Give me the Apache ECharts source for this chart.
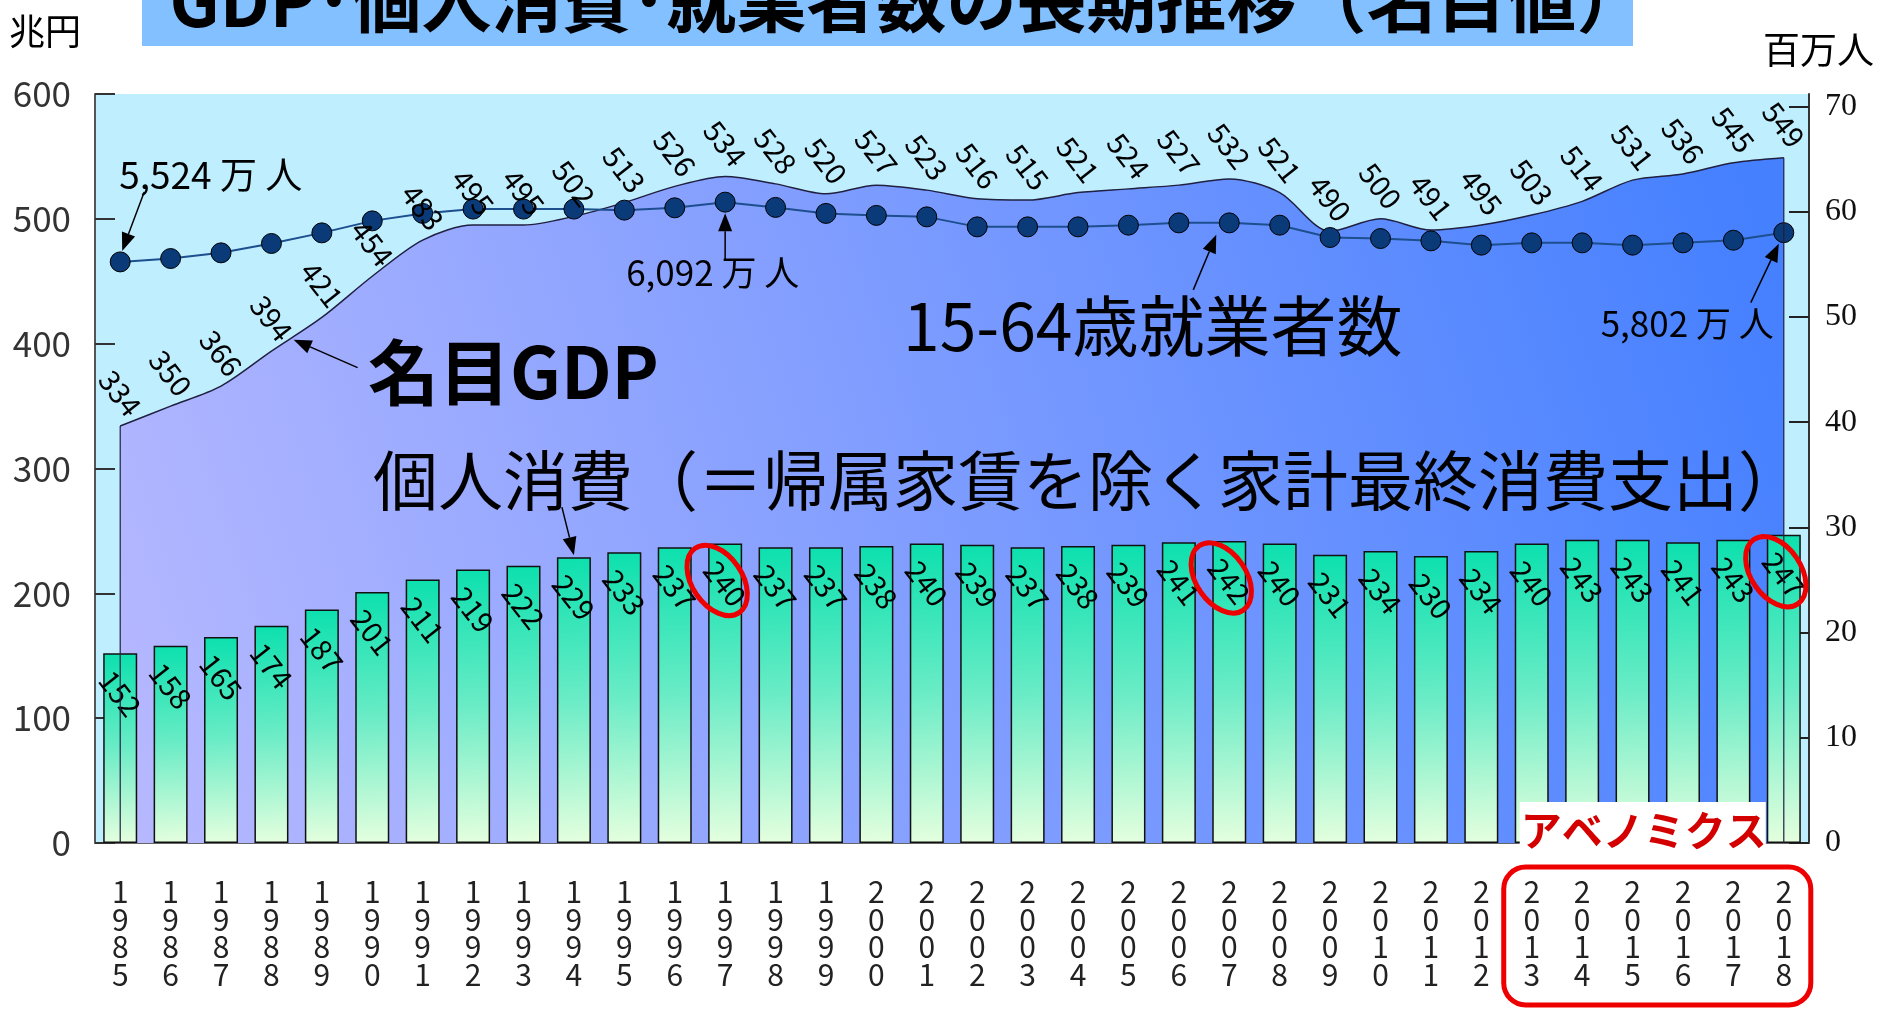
<!DOCTYPE html>
<html>
<head>
<meta charset="utf-8">
<script src="https://cdn.jsdelivr.net/npm/echarts@6/dist/echarts.min.js"></script>
<style>
  html, body { margin: 0; padding: 0; background: #ffffff; }
  #chart { width: 1883px; height: 1009px; }
</style>
</head>
<body>
<div id="chart"></div>
<script>
// 年次（暦年）
const years = ['1985','1986','1987','1988','1989','1990','1991','1992','1993','1994',
  '1995','1996','1997','1998','1999','2000','2001','2002','2003','2004',
  '2005','2006','2007','2008','2009','2010','2011','2012','2013','2014',
  '2015','2016','2017','2018'];

// 名目GDP（兆円）
const gdpNominal = [334,350,366,394,421,454,483,495,495,502,
  513,526,534,528,520,527,523,516,515,521,
  524,527,532,521,490,500,491,495,503,514,
  531,536,545,549];

// 個人消費（帰属家賃を除く家計最終消費支出、兆円）
const privateConsumption = [152,158,165,174,187,201,211,219,222,229,
  233,237,240,237,237,238,240,239,237,238,
  239,241,242,240,231,234,230,234,240,243,
  243,241,243,247];

// 15-64歳就業者数（百万人）
const workers1564 = [55.24,55.56,56.10,56.99,58.00,59.14,59.85,60.26,60.26,60.26,
  60.16,60.38,60.92,60.42,59.85,59.66,59.52,58.57,58.57,58.57,
  58.73,58.95,58.95,58.73,57.56,57.46,57.24,56.83,57.05,57.05,
  56.83,57.05,57.30,58.02];

// 目盛
const leftTicks = [0,100,200,300,400,500,600];
const rightTicks = [0,10,20,30,40,50,60,70];

// 丸で囲む年と、アベノミクス期間
const circledYears = ['1997','2007','2018'];
const abenomicsYears = ['2013','2018'];

const JP = '"Noto Sans CJK JP", "Noto Sans", sans-serif';

const chart = echarts.init(document.getElementById('chart'), null, { renderer: 'canvas' });

const valueLabel = {
  show: true, rotate: -52,
  align: 'center', verticalAlign: 'middle',
  fontFamily: JP, fontSize: 29, color: '#000'
};

const option = {
  animation: false,
  backgroundColor: '#ffffff',
  grid: {
    left: 95, right: 74, top: 94, bottom: 166,
    show: true, backgroundColor: '#BFEEFF', borderWidth: 0
  },
  xAxis: {
    type: 'category',
    data: years,
    axisLine: { show: true, lineStyle: { color: '#666', width: 2 } },
    axisTick: { show: false },
    axisLabel: {
      formatter: v => v.split('').join('\n'),
      fontFamily: JP, fontSize: 30, lineHeight: 27.5,
      color: '#222', margin: 35
    }
  },
  yAxis: [
    {
      type: 'value', min: 0, max: 600, interval: 100,
      axisLine: { show: true, lineStyle: { color: '#555', width: 2 } },
      axisTick: { show: true, inside: true, length: 20, lineStyle: { color: '#333', width: 2 } },
      axisLabel: { fontFamily: JP, fontSize: 35, color: '#333', margin: 24,
        customValues: leftTicks },
      splitLine: { show: false }
    },
    {
      type: 'value', position: 'right', min: 0, max: 71.2,
      axisLine: { show: true, lineStyle: { color: '#333', width: 2 } },
      axisTick: { show: true, inside: true, length: 20, customValues: rightTicks,
        lineStyle: { color: '#222', width: 2 } },
      axisLabel: { fontFamily: '"Liberation Serif", serif', fontSize: 32, color: '#111',
        margin: 16, customValues: rightTicks },
      splitLine: { show: false }
    }
  ],
  series: [
    {
      name: '名目GDP',
      type: 'line',
      data: gdpNominal,
      yAxisIndex: 0,
      z: 1,
      smooth: 0.3,
      symbol: 'none',
      lineStyle: { color: '#202040', width: 1.5 },
      areaStyle: {
        opacity: 1,
        color: new echarts.graphic.LinearGradient(0, 1, 1, 0.2, [
          { offset: 0, color: '#B8B9FF' },
          { offset: 1, color: '#4580FF' }
        ])
      }
    },
    {
      name: '個人消費',
      type: 'bar',
      data: privateConsumption,
      yAxisIndex: 0,
      z: 2,
      barWidth: 34,
      itemStyle: {
        color: new echarts.graphic.LinearGradient(0, 0, 0.25, 1, [
          { offset: 0, color: '#0CE0AE' },
          { offset: 0.5, color: '#6AECC6' },
          { offset: 1, color: '#E4FFDE' }
        ]),
        borderColor: '#111', borderWidth: 1.5
      },
      label: Object.assign({}, valueLabel, { position: 'insideTop', distance: 40 })
    },
    {
      name: '15-64歳就業者数',
      type: 'line',
      data: workers1564,
      yAxisIndex: 1,
      z: 3,
      symbol: 'circle',
      symbolSize: 20,
      itemStyle: { color: '#0A3A78', borderColor: '#000', borderWidth: 1 },
      lineStyle: { color: '#1D4E8E', width: 2 }
    },
    {
      // 名目GDPの数値ラベル（就業者数の点より前面に描く）
      name: '名目GDP値',
      type: 'line',
      data: gdpNominal,
      yAxisIndex: 0,
      z: 4,
      smooth: 0.3,
      symbol: 'circle',
      symbolSize: 2,
      itemStyle: { color: 'rgba(0,0,0,0)' },
      lineStyle: { opacity: 0 },
      label: Object.assign({}, valueLabel, { position: 'top', distance: 32 })
    }
  ]
};

chart.setOption(option);

// ---- 注記（タイトル・単位・矢印・囲み） ----
function ptL(cat, v) { return chart.convertToPixel({ xAxisIndex: 0, yAxisIndex: 0 }, [cat, v]); }
function ptR(cat, v) { return chart.convertToPixel({ xAxisIndex: 0, yAxisIndex: 1 }, [cat, v]); }
function idx(y) { return years.indexOf(y); }

function arrow(x1, y1, x2, y2, head, half) {
  head = head || 18; half = half || 7;
  const dx = x2 - x1, dy = y2 - y1, L = Math.hypot(dx, dy);
  const ux = dx / L, uy = dy / L;
  const bx = x2 - ux * head, by = y2 - uy * head;
  return [
    { type: 'line', z: 100, shape: { x1: x1, y1: y1, x2: bx, y2: by },
      style: { stroke: '#000', lineWidth: 1.5 } },
    { type: 'polygon', z: 100,
      shape: { points: [[x2, y2], [bx - uy * half, by + ux * half], [bx + uy * half, by - ux * half]] },
      style: { fill: '#000' } }
  ];
}

function text(x, y, s, size, opts) {
  opts = opts || {};
  return {
    type: 'text', x: x, y: y, z: opts.z || 100,
    style: {
      text: s, fontFamily: opts.family || JP, fontSize: size,
      fontWeight: opts.weight || 'normal', fill: opts.fill || '#000',
      align: opts.align || 'left', verticalAlign: opts.valign || 'middle'
    }
  };
}

const g = [];

// タイトル帯
g.push({ type: 'rect', z: 50, shape: { x: 142, y: -4, width: 1491, height: 50 },
  style: { fill: '#82C0FF' } });
g.push(text(908, 0, 'GDP･個人消費･就業者数の長期推移（名目値）', 70,
  { weight: 'bold', align: 'center' }));

// 単位
g.push(text(9, 31, '兆円', 36));
g.push(text(1874, 50, '百万人', 37, { align: 'right' }));

// 就業者数の注記
const w85 = ptR('1985', workers1564[idx('1985')]);
g.push(text(w85[0] - 1, w85[1] - 87, '5,524 万 人', 37));
g.push(...arrow(w85[0] + 24, w85[1] - 70, w85[0] + 2, w85[1] - 11));

const w97 = ptR('1997', workers1564[idx('1997')]);
g.push(text(w97[0] - 99, w97[1] + 71, '6,092 万 人', 35));
g.push(...arrow(w97[0], w97[1] + 58, w97[0], w97[1] + 11));

const w18 = ptR('2018', workers1564[idx('2018')]);
g.push(text(w18[0] - 10, w18[1] + 91, '5,802 万 人', 35, { align: 'right' }));
g.push(...arrow(w18[0] - 33, w18[1] + 70, w18[0] - 5, w18[1] + 11));

const w07 = ptR('2007', workers1564[idx('2007')]);
g.push(text(903, 326, '15-64歳就業者数', 66));
g.push(...arrow(w07[0] - 36, w07[1] + 67, w07[0] - 13, w07[1] + 12));

// 名目GDPの注記
const a88 = ptL('1988', gdpNominal[idx('1988')]);
const a89 = ptL('1989', gdpNominal[idx('1989')]);
const gx = a88[0] + (a89[0] - a88[0]) * 0.4, gy = a88[1] + (a89[1] - a88[1]) * 0.4;
g.push(text(368, 372, '名目GDP', 71, { weight: 'bold' }));
g.push(...arrow(gx + 66, gy + 30, gx + 2, gy + 2));

// 個人消費の注記
g.push(text(373, 480, '個人消費（＝帰属家賃を除く家計最終消費支出）', 65));
const b94 = ptL('1994', privateConsumption[idx('1994')]);
g.push(...arrow(b94[0] - 12, b94[1] - 50, b94[0], b94[1] - 2));

// 赤丸
circledYears.forEach(function (y) {
  const p = ptL(y, privateConsumption[idx(y)]);
  g.push({ type: 'ellipse', z: 110, x: p[0] - 8, y: p[1] + 37, rotation: 0.6,
    shape: { cx: 0, cy: 0, rx: 25, ry: 39 },
    style: { fill: 'none', stroke: '#EE0000', lineWidth: 5 } });
});

// GDP面の左右の縁
[years[0], years[years.length - 1]].forEach(function (y) {
  const top = ptL(y, gdpNominal[idx(y)]);
  const bot = ptL(y, 0);
  g.push({ type: 'line', z: 5, shape: { x1: top[0], y1: top[1], x2: bot[0], y2: bot[1] },
    style: { stroke: '#202040', lineWidth: 1.2 } });
});

// アベノミクス
const s13 = ptL(abenomicsYears[0], 0);
const s18 = ptL(abenomicsYears[1], 0);
g.push({ type: 'rect', z: 105,
  shape: { x: s13[0] - 12, y: 802, width: (s18[0] - s13[0]) - 6, height: 52 },
  style: { fill: '#ffffff' } });
g.push(text((s13[0] + s18[0]) / 2 - 14, 830, 'アベノミクス', 41,
  { weight: 'bold', fill: '#D40000', align: 'center', z: 112 }));
g.push({ type: 'rect', z: 105,
  shape: { x: s13[0] - 28, y: 867, width: (s18[0] - s13[0]) + 55, height: 138, r: 22 },
  style: { fill: 'none', stroke: '#EE0000', lineWidth: 5 } });

chart.setOption({ graphic: { elements: g } });
</script>
</body>
</html>
